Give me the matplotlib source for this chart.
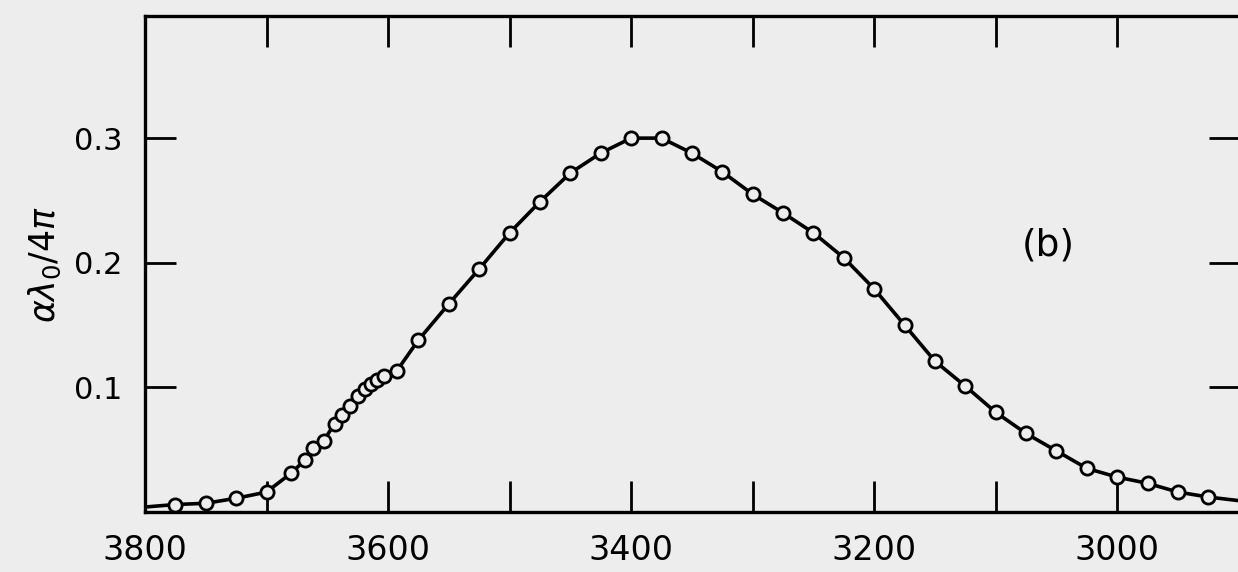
import matplotlib
matplotlib.use('Agg')
import matplotlib.pyplot as plt
from matplotlib.ticker import MultipleLocator

# Messpunkte (Wellenzahl in cm^-1, alpha*lambda0/4pi)
wellenzahl = [3775, 3750, 3725, 3700, 3680, 3668, 3662, 3653, 3644, 3638,
              3631, 3625, 3619, 3614, 3609, 3603, 3593, 3575, 3550, 3525,
              3500, 3475, 3450, 3425, 3400, 3375, 3350, 3325, 3300, 3275,
              3250, 3225, 3200, 3175, 3150, 3125, 3100, 3075, 3050, 3025,
              3000, 2975, 2950, 2925]
werte = [0.006, 0.007, 0.011, 0.016, 0.031, 0.042, 0.051, 0.057, 0.071, 0.078,
         0.085, 0.093, 0.099, 0.103, 0.106, 0.109, 0.113, 0.138, 0.167, 0.195,
         0.224, 0.249, 0.272, 0.288, 0.300, 0.300, 0.288, 0.273, 0.255, 0.240,
         0.224, 0.204, 0.179, 0.150, 0.121, 0.101, 0.080, 0.063, 0.049, 0.035,
         0.028, 0.023, 0.016, 0.012]

# Kurve laeuft bis an die Raender
kurve_x = [3800] + wellenzahl + [2899]
kurve_y = [0.004] + werte + [0.009]

x_labels = ['3800', '3600', '3400', '3200', '3000']
y_ticks = [0.1, 0.2, 0.3]

hintergrund = '#ededed'

fig = plt.figure(figsize=(12.38, 5.72), dpi=100, facecolor=hintergrund)
ax = fig.add_axes([145 / 1238, 1 - 512 / 572, 1095 / 1238, 496 / 572])
ax.set_facecolor(hintergrund)

ax.plot(kurve_x, kurve_y, color='black', lw=2.6, zorder=2)
ax.plot(wellenzahl, werte, 'o', ms=9.5, mfc=hintergrund, mec='black', mew=2.0, zorder=3)

ax.set_xlim(3800, 2899)
ax.set_ylim(0, 0.398)

ax.set_xticks([int(t) for t in x_labels])
ax.set_xticklabels(x_labels)
ax.xaxis.set_minor_locator(MultipleLocator(100))
ax.set_yticks(y_ticks)
ax.set_yticklabels(['0.1', '0.2', '0.3'])

ax.tick_params(axis='both', which='both', direction='in', length=22, width=2,
               top=True, right=True, labelsize=24, color='black')
ax.tick_params(axis='x', which='major', pad=16)
ax.tick_params(axis='y', which='major', pad=16, labelsize=22)

for s in ax.spines.values():
    s.set_linewidth(2.4)

ax.set_ylabel(r'$\alpha\lambda_0/4\pi$', fontsize=25)
ax.yaxis.set_label_coords(-0.075, 0.5)
ax.text(3057, 0.214, '(b)', fontsize=27, ha='center', va='center')

fig.savefig('out.png', dpi=100, facecolor=hintergrund)
